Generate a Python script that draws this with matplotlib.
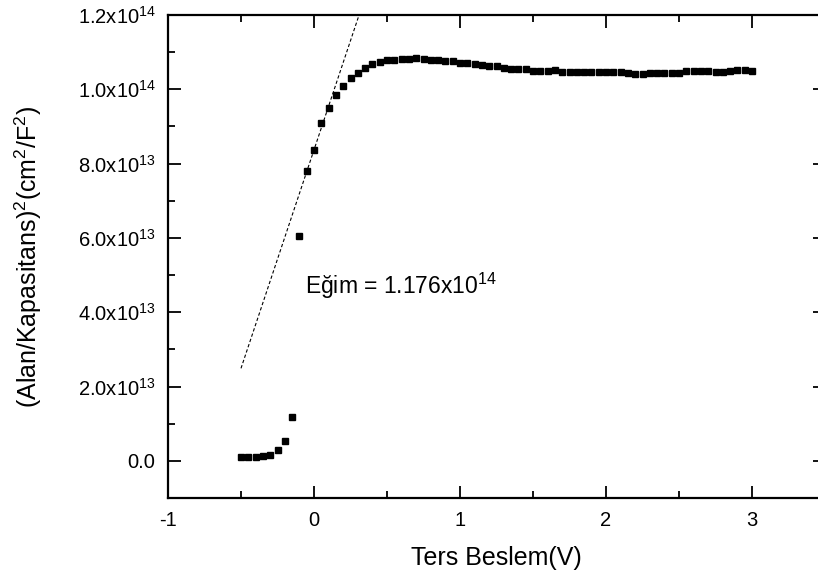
import numpy as np
import matplotlib
matplotlib.use('Agg')
import matplotlib.pyplot as plt
from matplotlib.ticker import MultipleLocator, FuncFormatter

plt.rcParams['font.family'] = ['Liberation Sans', 'DejaVu Sans']
plt.rcParams['mathtext.fontset'] = 'custom'
plt.rcParams['mathtext.rm'] = 'Liberation Sans'
plt.rcParams['mathtext.it'] = 'Liberation Sans'
plt.rcParams['axes.unicode_minus'] = False

# ters besleme gerilimi (V)
voltage = [-0.50, -0.45, -0.40, -0.35, -0.30, -0.25, -0.20, -0.15, -0.10, -0.05,
           0.00, 0.05, 0.10, 0.15, 0.20, 0.25, 0.30, 0.35, 0.40, 0.45,
           0.50, 0.55, 0.60, 0.65, 0.70, 0.75, 0.80, 0.85, 0.90, 0.95,
           1.00, 1.05, 1.10, 1.15, 1.20, 1.25, 1.30, 1.35, 1.40, 1.45,
           1.50, 1.55, 1.60, 1.65, 1.70, 1.75, 1.80, 1.85, 1.90, 1.95,
           2.00, 2.05, 2.10, 2.15, 2.20, 2.25, 2.30, 2.35, 2.40, 2.45,
           2.50, 2.55, 2.60, 2.65, 2.70, 2.75, 2.80, 2.85, 2.90, 2.95, 3.00]
# (A/C)^2 degerleri, 1e13 biriminde
inv_c2 = [0.116, 0.116, 0.116, 0.127, 0.16, 0.28, 0.54, 1.19, 6.04, 7.79,
          8.36, 9.08, 9.50, 9.85, 10.09, 10.30, 10.445, 10.58, 10.67, 10.73,
          10.787, 10.80, 10.82, 10.82, 10.83, 10.82, 10.787, 10.787, 10.76, 10.76,
          10.714, 10.696, 10.687, 10.642, 10.615, 10.633, 10.58, 10.553, 10.553, 10.534,
          10.499, 10.499, 10.49, 10.526, 10.472, 10.472, 10.472, 10.463, 10.463, 10.454,
          10.454, 10.454, 10.454, 10.445, 10.40, 10.418, 10.445, 10.427, 10.445, 10.445,
          10.445, 10.481, 10.481, 10.481, 10.481, 10.472, 10.472, 10.499, 10.526, 10.517, 10.499]
inv_c2 = np.array(inv_c2) * 1e13

# lineer fit
slope = 1.176e14
intercept = 8.37e13
fit_x = np.array([-0.5, 0.31])

fig = plt.figure(figsize=(8.18, 5.81), dpi=100)
ax = fig.add_axes([168 / 818, 83 / 581, 657 / 818, 483 / 581])

ax.plot(voltage, inv_c2, 's', color='black', markersize=4.8, linestyle='none')
ax.plot(fit_x, slope * fit_x + intercept, '--', color='black', linewidth=0.8,
        dashes=(3, 2))

ax.set_xlim(-1, 3.5)
ax.set_ylim(-1e13, 1.2e14)
ax.xaxis.set_major_locator(MultipleLocator(1))
ax.xaxis.set_minor_locator(MultipleLocator(0.5))
ax.yaxis.set_major_locator(MultipleLocator(2e13))
ax.yaxis.set_minor_locator(MultipleLocator(1e13))


def sci(v, pos):
    if abs(v) < 1:
        return '0.0'
    e = int(np.floor(np.log10(abs(v))))
    return '%.1fx10$^{%d}$' % (v / 10 ** e, e)


ax.yaxis.set_major_formatter(FuncFormatter(sci))
ax.tick_params(which='both', direction='in', top=True, right=True, width=1.3,
               labelsize=14.5)
ax.tick_params(which='major', length=9)
ax.tick_params(which='minor', length=5)
ax.tick_params(axis='x', which='major', pad=9)
ax.tick_params(axis='y', which='major', pad=9)
for s in ax.spines.values():
    s.set_linewidth(1.6)

ax.set_xlabel('Ters Beslem(V)', fontsize=18, labelpad=12)
ax.set_ylabel('(Alan/Kapasitans)$^2$(cm$^2$/F$^2$)', fontsize=18, labelpad=24)
ax.text(-0.06, 4.71e13, 'Eğim = 1.176x10$^{14}$', fontsize=16.5, va='center')

fig.savefig('out.png', dpi=100)
